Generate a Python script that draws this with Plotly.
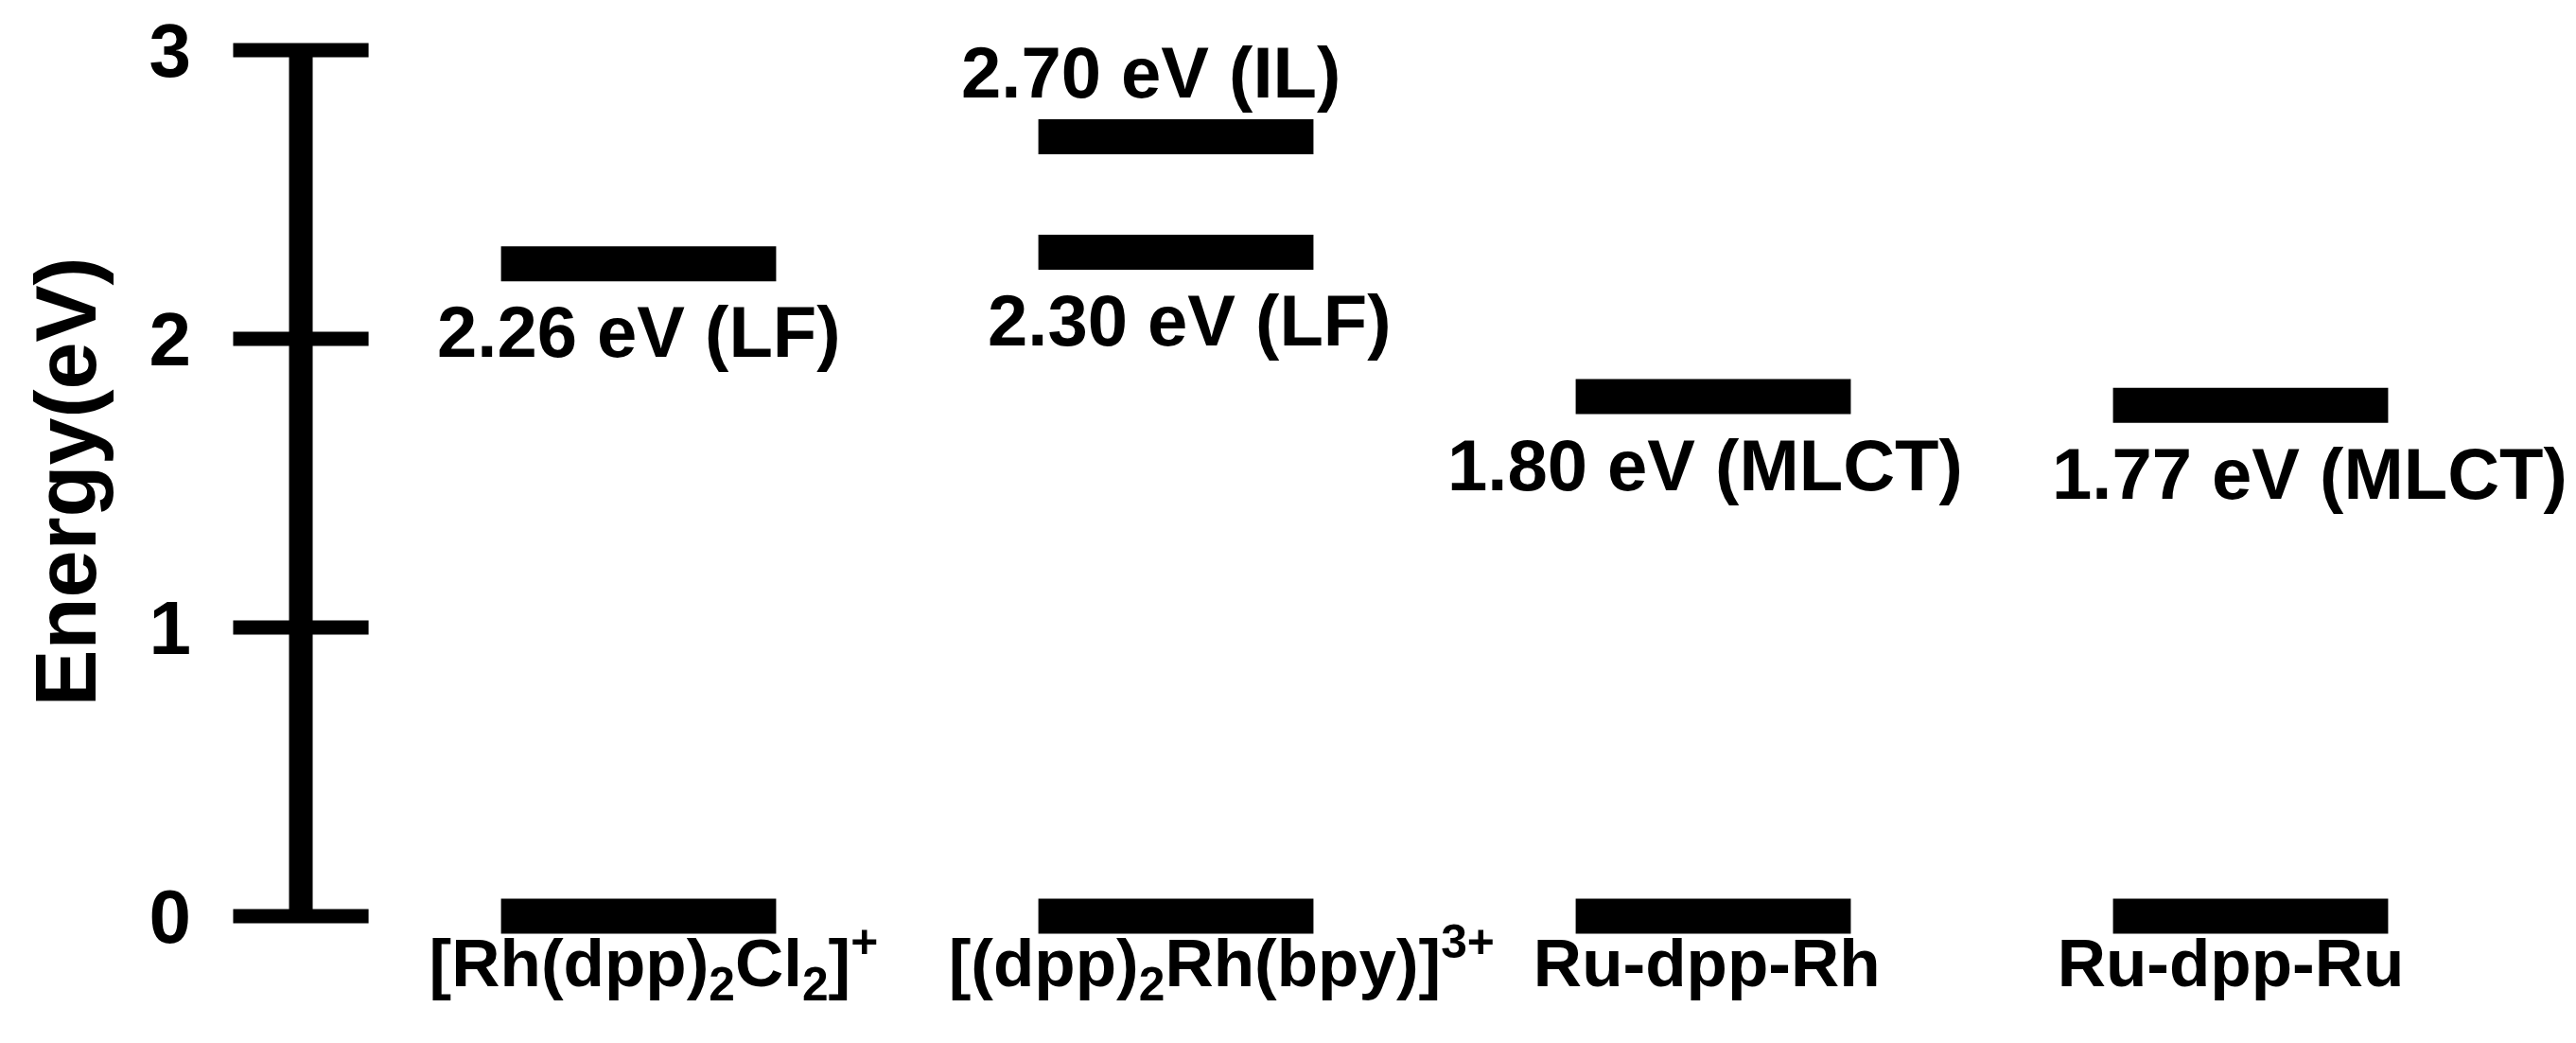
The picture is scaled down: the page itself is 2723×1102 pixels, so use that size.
import plotly.graph_objects as go

# ---------------- data ----------------
categories = [
    "[Rh(dpp)<sub>2</sub>Cl<sub>2</sub>]<sup>+</sup>",
    "[(dpp)<sub>2</sub>Rh(bpy)]<sup>3+</sup>",
    "Ru-dpp-Rh",
    "Ru-dpp-Ru",
]
ground_energy = [0.0, 0.0, 0.0, 0.0]          # eV, one ground level per complex
level_group = [0, 1, 1, 2, 3]                 # index into categories
level_energy = [2.26, 2.70, 2.30, 1.80, 1.77]  # eV
level_label = ["2.26 eV (LF)", "2.70 eV (IL)", "2.30 eV (LF)",
               "1.80 eV (MLCT)", "1.77 eV (MLCT)"]
y_tick_values = [0, 1, 2, 3]
y_tick_text = ["0", "1", "2", "3"]
y_title = "Energy(eV)"

# ---------------- style ----------------
W, H = 2723, 1102
M_L, M_R, M_T, M_B = 230, 10, 20, 120
FONT = "Liberation Sans, Arial, sans-serif"
X_RANGE = [-0.7694, 3.6021]
Y_RANGE = [-0.0721, 3.0820]
AXIS_X = -0.6285          # where the drawn energy axis sits (x data units)
TICK_HALF = 0.126         # half-length of the cross ticks (x data units)
BAR_HALF = 0.256          # half-width of a level bar (x data units)
BAR_W = 37                # level bar thickness (px)
cat_label_dx = [0.028, 0.085, -0.012, -0.037]  # label offset (x data units)
label_side = ["below", "above", "below", "below", "below"]
label_dx = [0, -27, 14, -9, 62]   # px
LABEL_GAP_BELOW = 72     # px
LABEL_GAP_ABOVE = 68     # px

fig = go.Figure()

# energy axis drawn as a thick line with cross ticks
fig.add_trace(go.Scatter(x=[AXIS_X, AXIS_X],
                         y=[min(y_tick_values), max(y_tick_values)],
                         mode="lines", line=dict(color="black", width=25),
                         hoverinfo="skip", showlegend=False))
tk_x, tk_y = [], []
for t in y_tick_values:
    tk_x += [AXIS_X - TICK_HALF, AXIS_X + TICK_HALF, None]
    tk_y += [t, t, None]
fig.add_trace(go.Scatter(x=tk_x, y=tk_y, mode="lines",
                         line=dict(color="black", width=15),
                         hoverinfo="skip", showlegend=False))

# level bars
bx, by = [], []
for g, e in enumerate(ground_energy):
    bx += [g - BAR_HALF, g + BAR_HALF, None]
    by += [e, e, None]
for g, e in zip(level_group, level_energy):
    bx += [g - BAR_HALF, g + BAR_HALF, None]
    by += [e, e, None]
fig.add_trace(go.Scatter(x=bx, y=by, mode="lines",
                         line=dict(color="black", width=BAR_W),
                         hoverinfo="skip", showlegend=False))

# level labels
for g, e, txt, side, dx in zip(level_group, level_energy, level_label,
                               label_side, label_dx):
    dy = -LABEL_GAP_BELOW if side == "below" else LABEL_GAP_ABOVE
    fig.add_annotation(x=g, y=e, xref="x", yref="y", text=txt,
                       showarrow=False, xanchor="center", yanchor="middle",
                       xshift=dx, yshift=dy,
                       font=dict(family=FONT, size=76, color="black",
                                 weight="bold"))

fig.update_layout(
    width=W, height=H,
    margin=dict(l=M_L, r=M_R, t=M_T, b=M_B, pad=0),
    paper_bgcolor="white", plot_bgcolor="white",
    showlegend=False,
    font=dict(family=FONT, size=76, color="black", weight="bold"),
    xaxis=dict(range=X_RANGE, tickmode="array",
               tickvals=[i + d for i, d in enumerate(cat_label_dx)],
               ticktext=categories,
               showgrid=False, zeroline=False, showline=False,
               ticks="", tickangle=0, automargin=False,
               ticklabelstandoff=-20,
               ticklabeloverflow="allow",
               tickfont=dict(family=FONT, size=71, color="black",
                             weight="bold")),
    yaxis=dict(range=Y_RANGE, tickmode="array",
               tickvals=y_tick_values, ticktext=y_tick_text,
               showgrid=False, zeroline=False, showline=False,
               ticks="outside", ticklen=19, tickcolor="rgba(0,0,0,0)",
               ticklabeloverflow="allow",
               tickfont=dict(family=FONT, size=80, color="black",
                             weight="bold"),
               title=dict(text=y_title, standoff=26,
                          font=dict(family=FONT, size=90, color="black",
                                    weight="bold")),
               automargin=False),
)

fig.write_html("out.html")
